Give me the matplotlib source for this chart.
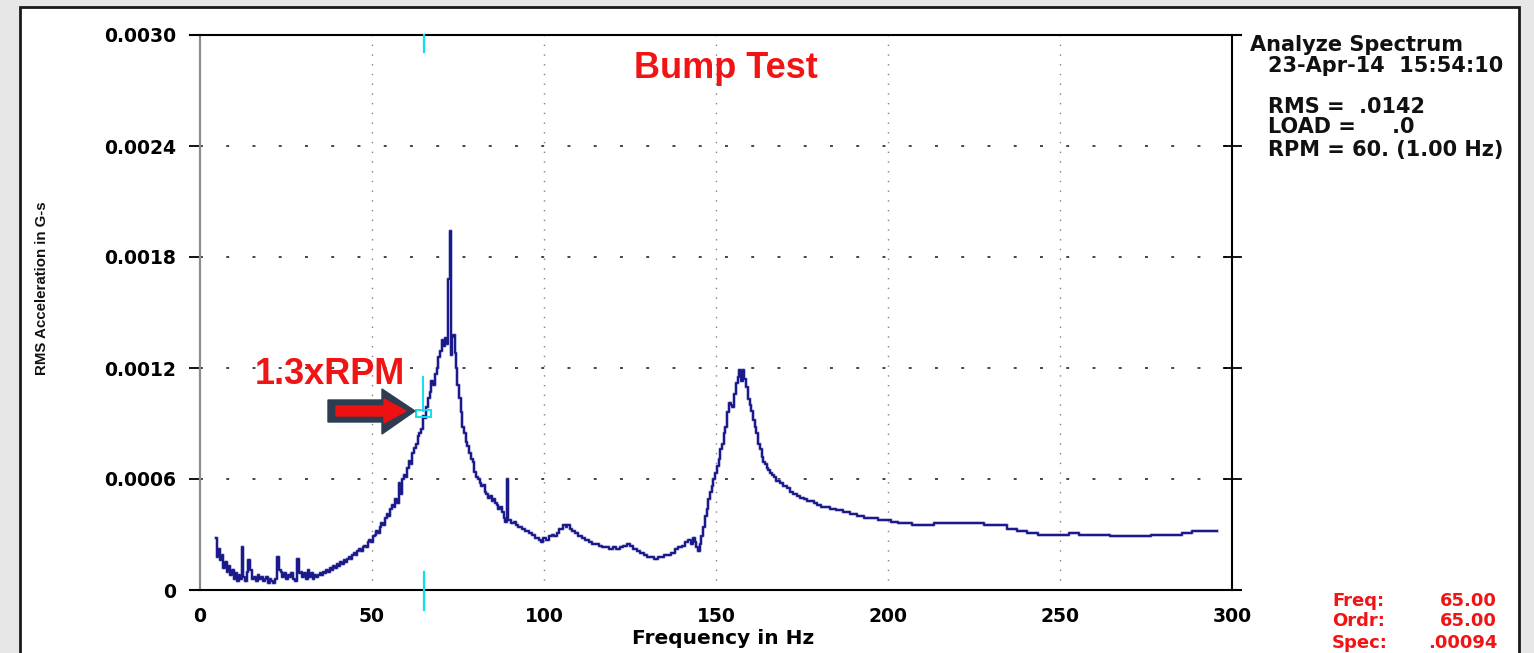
import matplotlib
matplotlib.use("Agg")
import matplotlib.pyplot as plt
import matplotlib.patches as mpatches
import matplotlib.transforms as mtrans
import matplotlib.font_manager as fm
from matplotlib.lines import Line2D
import numpy as np

# ---------------- data ----------------
freq_hz = [4.7, 5.0, 5.5, 6.0, 6.5, 7.0, 7.5, 8.0, 8.5, 9.0, 9.5, 10.0, 10.5, 11.0, 11.5, 12.0, 12.4, 12.8,
           13.3, 13.8, 14.3, 14.8, 15.3, 16.0, 16.5, 17.0, 17.5, 18.0, 18.5, 19.0, 19.5, 20.0, 20.5, 21.0,
           21.5, 22.0, 22.7, 23.2, 23.7, 24.2, 24.8, 25.3, 25.8, 26.3, 26.8, 27.3, 27.8, 28.5, 29.0, 29.5,
           30.0, 30.5, 31.0, 31.5, 32.0, 32.5, 33.0, 33.5, 34.0, 34.5, 35.0, 35.5, 36.0, 36.5, 37.0, 37.5,
           38.0, 38.5, 39.0, 39.5, 40.0, 40.5, 41.0, 41.5, 42.0, 42.5, 43.0, 43.5, 44.0, 44.5, 45.0, 45.5,
           46.0, 46.5, 47.0, 47.5, 48.0, 48.5, 49.0, 49.5, 50.0, 50.5, 51.0, 51.5, 52.0, 52.5, 53.0, 53.5,
           54.0, 54.5, 55.0, 55.5, 56.0, 56.5, 57.0, 57.5, 58.0, 58.5, 59.0, 59.5, 60.0, 60.5, 61.0, 61.5,
           62.0, 62.5, 63.0, 63.5, 64.0, 64.5, 65.0, 65.5, 66.0, 66.5, 67.0, 67.5, 68.0, 68.5, 69.0, 69.5,
           70.0, 70.5, 71.0, 71.5, 72.0, 72.4, 72.9, 73.2, 73.5, 73.8, 74.2, 74.6, 75.0, 75.5, 76.0, 76.5,
           77.0, 77.5, 78.0, 78.5, 79.0, 79.5, 80.0, 80.5, 81.0, 81.5, 82.0, 82.5, 83.0, 83.5, 84.0, 84.5,
           85.0, 85.5, 86.0, 86.5, 87.0, 87.5, 88.0, 88.5, 89.0, 89.3, 89.7, 90.0, 91.0, 91.5, 92.0, 93.0,
           94.0, 95.0, 96.0, 97.0, 98.0, 99.0, 99.5, 100.0, 101.0, 102.0, 102.6, 103.5, 104.0, 105.0, 106.0,
           106.5, 107.0, 108.0, 108.5, 109.5, 110.5, 111.5, 112.5, 113.5, 114.5, 115.5, 116.5, 117.5, 118.5,
           119.5, 120.5, 121.5, 122.5, 123.5, 124.5, 125.5, 126.5, 127.5, 128.5, 129.5, 130.5, 131.5, 132.5,
           133.5, 134.5, 135.5, 136.5, 137.5, 138.5, 139.5, 140.5, 141.5, 142.5, 143.0, 143.5, 144.0, 144.5,
           145.0, 145.5, 146.0, 146.5, 147.0, 147.5, 148.0, 148.5, 149.0, 149.5, 150.0, 150.5, 151.0, 151.5,
           152.0, 152.5, 153.0, 153.5, 154.0, 154.5, 155.0, 155.5, 156.0, 156.5, 157.0, 157.5, 158.0, 158.5,
           159.0, 159.5, 160.0, 160.5, 161.0, 161.5, 162.0, 162.5, 163.0, 163.5, 164.0, 164.5, 165.0, 165.5,
           166.0, 166.5, 167.0, 168.0, 169.0, 170.0, 171.0, 172.0, 173.0, 174.0, 175.0, 176.0, 177.0, 178.0,
           179.0, 180.0, 181.0, 182.0, 184.0, 186.0, 188.0, 190.0, 192.0, 194.0, 196.0, 198.0, 200.0, 202.0,
           204.0, 206.0, 208.0, 210.0, 212.0, 215.0, 218.0, 222.0, 226.0, 230.0, 233.0, 236.0, 239.0, 242.0,
           245.0, 248.0, 251.0, 254.0, 257.0, 260.0, 263.0, 266.0, 269.0, 272.0, 275.0, 278.0, 281.0, 284.0,
           287.0, 290.0, 293.0, 295.6]

# RMS acceleration, in units of 1e-4 G-s
accel_e4 = [2.8, 1.8, 2.2, 1.6, 1.9, 1.2, 1.5, 1.0, 1.3, 0.8, 1.1, 0.6, 0.9, 0.5, 0.8, 0.6, 2.3, 0.7,
            0.5, 1.0, 1.6, 1.1, 0.6, 0.7, 0.5, 0.8, 0.6, 0.7, 0.5, 0.6, 0.7, 0.4, 0.6, 0.5,
            0.4, 0.6, 1.8, 1.1, 1.0, 0.7, 0.9, 0.6, 0.8, 0.7, 0.9, 0.6, 0.5, 1.7, 0.9, 1.0,
            0.7, 0.9, 0.6, 1.1, 0.7, 0.9, 0.6, 0.8, 0.7, 0.8, 0.9, 0.8, 1.0, 0.9, 1.1, 1.0,
            1.2, 1.1, 1.3, 1.2, 1.4, 1.3, 1.5, 1.4, 1.6, 1.5, 1.7, 1.8, 1.7, 1.9, 2.0, 1.9,
            2.1, 2.2, 2.1, 2.3, 2.4, 2.3, 2.6, 2.7, 2.6, 2.9, 3.0, 3.2, 3.1, 3.4, 3.6, 3.5,
            3.9, 4.1, 4.0, 4.4, 4.6, 4.5, 4.9, 4.7, 5.8, 5.2, 6.0, 6.2, 6.1, 6.6, 7.0, 6.8,
            7.4, 7.7, 7.9, 8.3, 8.5, 8.7, 9.4, 9.3, 9.9, 10.4, 10.7, 11.3, 11.1, 11.7, 12.0, 12.6,
            12.9, 13.5, 13.2, 13.6, 13.3, 16.8, 19.4, 12.7, 13.7, 13.8, 12.8, 12.0, 11.1, 10.4, 9.6, 8.8,
            8.5, 8.0, 7.8, 7.4, 7.1, 6.9, 6.4, 6.1, 6.0, 5.8, 5.6, 5.7, 5.3, 5.2, 5.0, 5.1,
            4.8, 4.9, 4.7, 4.6, 4.4, 4.5, 4.2, 3.9, 3.7, 6.0, 3.8, 3.8, 3.6, 3.7, 3.5, 3.4,
            3.3, 3.2, 3.1, 3.0, 2.8, 2.7, 2.6, 2.8, 2.7, 2.9, 3.0, 2.9, 3.1, 3.3, 3.5,
            3.4, 3.5, 3.3, 3.2, 3.1, 2.9, 2.8, 2.7, 2.6, 2.5, 2.5, 2.4, 2.3, 2.3,
            2.2, 2.3, 2.2, 2.3, 2.4, 2.5, 2.4, 2.2, 2.1, 2.0, 1.9, 1.8, 1.8, 1.7,
            1.8, 1.8, 1.9, 1.9, 2.0, 2.2, 2.3, 2.4, 2.6, 2.7, 2.5, 2.8, 2.6, 2.3,
            2.1, 2.5, 2.9, 3.4, 4.0, 4.4, 4.9, 5.3, 5.6, 6.0, 6.3, 6.7, 7.1, 7.6,
            7.9, 8.5, 8.8, 9.6, 10.1, 10.0, 9.9, 10.6, 11.2, 11.5, 11.9, 11.3, 11.9, 11.4,
            11.0, 10.3, 10.0, 9.7, 9.2, 8.8, 8.5, 7.9, 7.6, 7.2, 6.9, 6.8, 6.6, 6.5,
            6.3, 6.2, 6.1, 5.9, 5.8, 5.6, 5.5, 5.3, 5.2, 5.1, 5.0, 4.9, 4.8, 4.8,
            4.7, 4.6, 4.5, 4.5, 4.4, 4.3, 4.2, 4.1, 4.0, 3.9, 3.9, 3.8, 3.8, 3.7,
            3.6, 3.6, 3.5, 3.5, 3.5, 3.6, 3.6, 3.6, 3.6, 3.5, 3.5, 3.3, 3.2, 3.1,
            3.0, 3.0, 3.0, 3.1, 3.0, 3.0, 3.0, 2.9, 2.9, 2.9, 2.9, 3.0, 3.0, 3.0,
            3.1, 3.2, 3.2, 3.2]

x_ticks = [0, 50, 100, 150, 200, 250, 300]
y_ticks = [0.0, 0.0006, 0.0012, 0.0018, 0.0024, 0.0030]
y_tick_labels = ["0", "0.0006", "0.0012", "0.0018", "0.0024", "0.0030"]

cursor_freq = 65.0
cursor_spec = 0.00094

title_text = "Bump Test"
annot_text = "1.3xRPM"
info_lines = ["Analyze Spectrum", "23-Apr-14  15:54:10", "RMS =  .0142", "LOAD =     .0",
              "RPM = 60. (1.00 Hz)"]
cursor_labels = ["Freq:", "Ordr:", "Spec:"]
cursor_values = ["65.00", "65.00", ".00094"]

# ---------------- figure ----------------
W, H = 1534, 653
fig = plt.figure(figsize=(W / 100, H / 100), dpi=100, facecolor="#e7e7e7")


def fx(px):
    return px / W


def fy(py):
    return 1 - py / H


# white panel with dark border
panel = mpatches.Rectangle((fx(20), fy(660)), fx(1519) - fx(20), fy(7) - fy(660),
                           transform=fig.transFigure, facecolor="white", edgecolor="#1a1a1a",
                           linewidth=2, zorder=-10)
fig.patches.append(panel)

ax_l, ax_r, ax_t, ax_b = 200, 1232, 35, 590
ax = fig.add_axes([fx(ax_l), fy(ax_b), fx(ax_r) - fx(ax_l), fy(ax_t) - fy(ax_b)])
ax.set_facecolor("white")

accel = np.array(accel_e4) * 1e-4
ax.plot(freq_hz, accel, color="#8c8cc8", linewidth=2.6, drawstyle="steps-mid", zorder=2, alpha=0.6)
ax.plot(freq_hz, accel, color="#1a1a8a", linewidth=1.5, drawstyle="steps-mid", zorder=3)

ax.set_xlim(0, 300)
ax.set_ylim(0, 0.0030)
ax.set_xticks(x_ticks)
ax.set_xticklabels([str(t) for t in x_ticks])
ax.set_yticks(y_ticks)
ax.set_yticklabels(y_tick_labels)

for lab in ax.get_xticklabels() + ax.get_yticklabels():
    lab.set_fontfamily("DejaVu Sans")
    lab.set_fontweight("bold")
    lab.set_fontsize(13.5)
    lab.set_color("black")

ax.tick_params(axis="x", length=0, pad=12)
ax.tick_params(axis="y", which="major", direction="out", length=8, width=1.3, color="black",
               pad=9, left=True, right=False)

# gridlines
for xv in x_ticks[1:-1]:
    ax.axvline(xv, color="#808080", linewidth=1.0, linestyle=(0, (1, 6)), zorder=1)
for yv in y_ticks[1:-1]:
    ax.axhline(yv, color="#444444", linewidth=1.4, linestyle=(0, (1.5, 12)), zorder=1)

# spines
ax.spines["left"].set_color("#8c8c8c")
ax.spines["left"].set_linewidth(1.6)
ax.spines["right"].set_color("black")
ax.spines["right"].set_linewidth(1.5)
ax.spines["top"].set_visible(False)
ax.spines["bottom"].set_visible(False)
ext_l = -10 / (ax_r - ax_l)
ext_r = 1 + 9 / (ax_r - ax_l)
for yy in (0, 1):
    ax.add_line(Line2D([ext_l, ext_r], [yy, yy], transform=ax.transAxes, color="black",
                       linewidth=1.5, clip_on=False, zorder=4))

# right-side tick marks
for yv in y_ticks[1:-1]:
    ax.plot([1 - 8 / (ax_r - ax_l), 1 + 9 / (ax_r - ax_l)], [yv, yv],
            transform=mtrans.blended_transform_factory(ax.transAxes, ax.transData),
            color="black", linewidth=1.3, clip_on=False, zorder=4)

# cursor marks (cyan)
cyan = "#10e0ec"
bt = mtrans.blended_transform_factory(ax.transData, ax.transAxes)
ax.plot([cursor_freq, cursor_freq], [1.0, 1 - 17 / 555], transform=bt, color=cyan, lw=1.6,
        clip_on=False, zorder=5)
ax.plot([cursor_freq, cursor_freq], [18 / 555, -20 / 555], transform=bt, color=cyan, lw=1.6,
        clip_on=False, zorder=5)
ax.plot([cursor_freq - 0.3, cursor_freq - 0.3], [cursor_spec + 0.00003, cursor_spec + 0.00021],
        color=cyan, lw=1.4, zorder=5)
ax.add_patch(mpatches.Rectangle((cursor_freq - 2.2, cursor_spec - 0.000005), 4.4, 0.00004,
                                facecolor="none", edgecolor=cyan, lw=1.4, zorder=5))

# arrow annotation (pixel coordinates)
outer = [(328, 400), (382, 400), (382, 389), (415, 411), (382, 434), (382, 422), (328, 422)]
inner = [(336, 406), (384, 406), (384, 399), (406, 411), (384, 423), (384, 416), (336, 416)]
fig.patches.append(mpatches.Polygon([(fx(a), fy(b)) for a, b in outer], closed=True,
                                    transform=fig.transFigure, facecolor="#2c3d52",
                                    edgecolor="#2c3d52", lw=1, zorder=6))
fig.patches.append(mpatches.Polygon([(fx(a), fy(b)) for a, b in inner], closed=True,
                                    transform=fig.transFigure, facecolor="#ee1111",
                                    edgecolor="#ee1111", lw=1, zorder=7))

red = "#f01414"
fig.text(fx(726), fy(68), title_text, color=red, fontsize=26, fontweight="bold",
         family="Liberation Sans", ha="center", va="center")
fig.text(fx(330), fy(374), annot_text, color=red, fontsize=26, fontweight="bold",
         family="Liberation Sans", ha="center", va="center")

# axis labels
fig.text(fx(723), fy(638), "Frequency in Hz", fontsize=14.5, fontweight="bold",
         family="DejaVu Sans", ha="center", va="center")

_names = {f.name for f in fm.fontManager.ttflist}
if "Liberation Sans Narrow" in _names:
    ylab_family, ylab_size = "Liberation Sans Narrow", 13
else:
    ylab_family, ylab_size = "Liberation Sans", 10.8
fig.text(fx(42), fy(288), "RMS Acceleration in G-s", fontsize=ylab_size, fontweight="bold",
         family=ylab_family, rotation=90, ha="center", va="center", color="#111111")

# info block
info_pos = [(1250, 45), (1268, 66), (1268, 107), (1268, 127), (1268, 150)]
for txt, (px, py) in zip(info_lines, info_pos):
    fig.text(fx(px), fy(py), txt, fontsize=15, fontweight="bold", family="DejaVu Sans",
             ha="left", va="center", color="#111111")

# cursor readout
for i, (lab, val) in enumerate(zip(cursor_labels, cursor_values)):
    py = [601, 621, 643][i]
    fig.text(fx(1332), fy(py), lab, fontsize=13, fontweight="bold", family="DejaVu Sans",
             ha="left", va="center", color=red)
    fig.text(fx(1497), fy(py), val, fontsize=13, fontweight="bold", family="DejaVu Sans",
             ha="right", va="center", color=red)

fig.savefig("out.png", dpi=100, facecolor=fig.get_facecolor())
